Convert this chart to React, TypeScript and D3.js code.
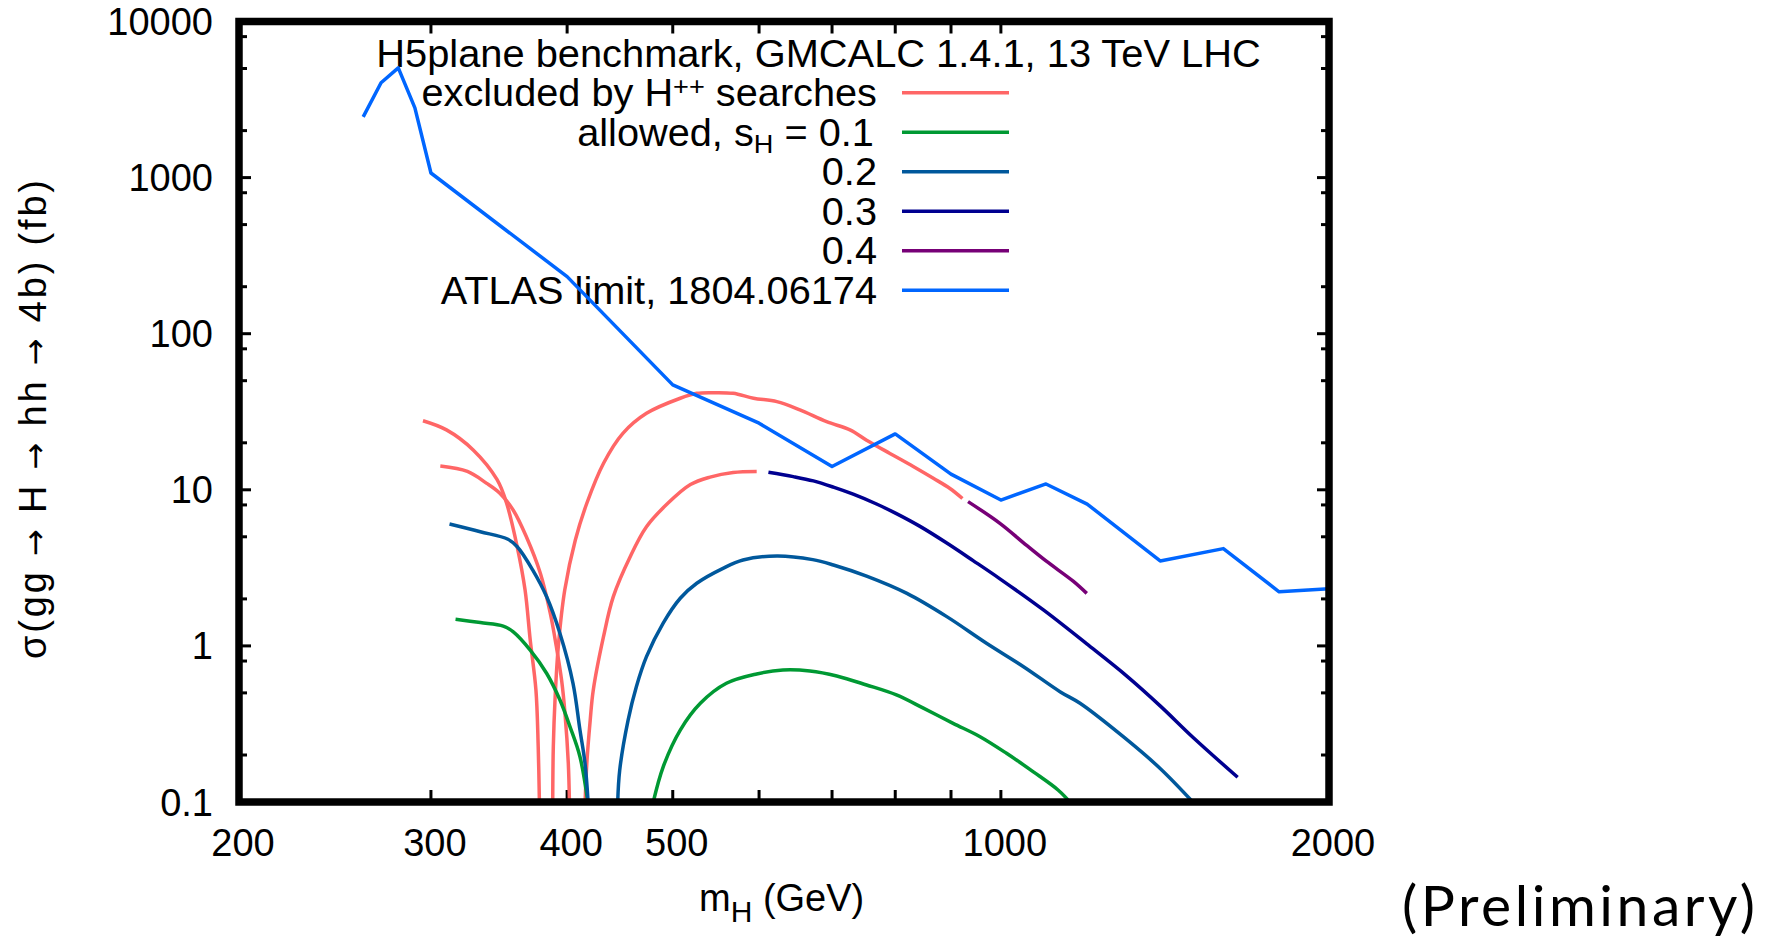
import React from "react";
import * as d3 from "d3";

type Pt = [number, number];

// tick values / labels
const xTickValues = [200, 300, 400, 500, 600, 700, 800, 900, 1000, 2000];
const xTickLabels = [200, 300, 400, 500, 1000, 2000];
const yTickLabels = [0.1, 1, 10, 100, 1000, 10000];
const yMinorFactors = [2, 5, 8];

// excluded by H++ searches (four segments)
const excluded1: Pt[] = [[295, 27.7], [310, 24.2], [328, 18.0], [345, 11.6], [352, 8.2], [360, 4.3], [366, 2.28], [370, 1.09], [374.5, 0.52], [376.3, 0.226], [377.3, 0.095]];
const excluded2: Pt[] = [[306, 14.2], [324, 13.1], [337.5, 11.0], [347, 9.5], [357, 7.4], [367, 5.0], [378, 2.92], [386, 1.62], [391, 0.99], [395.4, 0.6], [398.2, 0.37], [401, 0.177], [402, 0.095]];
const excluded3: Pt[] = [[388, 0.095], [388.5, 0.226], [390, 0.47], [392.6, 0.99], [398, 2.28], [407, 4.77], [417, 8.2], [432, 14.8], [450, 23.0], [473, 30.9], [508, 38.6], [526, 41.5], [545, 41.9], [568, 41.5], [593, 38.6], [623, 36.7], [654, 32.5], [692, 27.3], [727, 24.2], [753, 20.8], [791, 17.1], [831, 14.1], [867, 11.85], [898, 10.2], [922, 8.8]];
const excluded4: Pt[] = [[415.4, 0.095], [417, 0.177], [420, 0.335], [422.7, 0.52], [432, 1.15], [441, 2.07], [457, 3.73], [473, 5.8], [494, 8.1], [519, 10.8], [541, 12.05], [568, 12.9], [597, 13.1]];

// allowed, s_H = 0.1
const sH01a: Pt[] = [[316, 1.48], [333, 1.41], [349.5, 1.34], [357, 1.23], [370, 0.94], [383, 0.668], [394, 0.45], [402.4, 0.304], [411, 0.195], [418.3, 0.095]];
const sH01b: Pt[] = [[479, 0.095], [490, 0.168], [508, 0.289], [530, 0.429], [560, 0.576], [597, 0.661], [631, 0.701], [668, 0.691], [707, 0.642], [753, 0.562], [802, 0.485], [849, 0.399], [904, 0.319], [957, 0.262], [1012, 0.205], [1071, 0.156], [1129, 0.119], [1160, 0.098]];

// s_H = 0.2
const sH02a: Pt[] = [[312, 6.04], [333, 5.39], [353, 4.82], [360, 4.32], [372, 3.06], [383, 2.07], [394, 1.2], [405, 0.576], [411, 0.289], [415.4, 0.177], [418.3, 0.095]];
const sH02b: Pt[] = [[445, 0.095], [447, 0.16], [455, 0.335], [463, 0.548], [473, 0.853], [490, 1.4], [508, 2.02], [526, 2.52], [556, 3.14], [580, 3.55], [623, 3.77], [672, 3.57], [702, 3.3], [753, 2.8], [820, 2.17], [892, 1.54], [970, 1.04], [1049, 0.736], [1133, 0.509], [1182, 0.429], [1295, 0.262], [1400, 0.164], [1500, 0.1]];

// s_H = 0.3
const sH03: Pt[] = [[612, 12.95], [645, 12.15], [673, 11.4], [702, 10.4], [732, 9.37], [769, 8.11], [802, 7.04], [843, 5.83], [892, 4.56], [943, 3.52], [998, 2.69], [1094, 1.7], [1199, 1.03], [1304, 0.643], [1400, 0.413], [1501, 0.259], [1649, 0.144]];

// s_H = 0.4
const sH04: Pt[] = [[933, 8.4], [998, 6.1], [1056, 4.4], [1100, 3.5], [1165, 2.6], [1199, 2.17]];

// ATLAS limit, 1804.06174
const atlas: Pt[] = [[260, 2450], [270, 4050], [280, 5050], [290, 2800], [300, 1070], [400, 232], [500, 47], [600, 26.7], [700, 14.1], [800, 22.8], [900, 12.6], [1000, 8.6], [1100, 10.9], [1200, 8.1], [1400, 3.5], [1600, 4.2], [1800, 2.22], [2000, 2.32]];

const C_EXCL = "#ff6666";
const C_01 = "#009933";
const C_02 = "#00589c";
const C_03 = "#000090";
const C_04 = "#770077";
const C_ATLAS = "#0066ff";

const W = 1766, H = 941;
const L = 239, R = 1329, T = 21.5, B = 802;
const FONT = "'Liberation Sans', Arial, Helvetica, sans-serif";
const ARROW_FONT = "'DejaVu Sans', sans-serif";

export default function App() {
  const x = d3.scaleLog().domain([200, 2000]).range([L, R]);
  const y = d3.scaleLog().domain([0.1, 10000]).range([B, T]);
  const smooth = d3.line<Pt>().x(d => x(d[0])).y(d => y(d[1])).curve(d3.curveCatmullRom.alpha(0.5));
  const straight = d3.line<Pt>().x(d => x(d[0])).y(d => y(d[1])).curve(d3.curveLinear);

  const curves: { data: Pt[]; color: string; line: any }[] = [
    { data: excluded1, color: C_EXCL, line: smooth },
    { data: excluded2, color: C_EXCL, line: smooth },
    { data: excluded3, color: C_EXCL, line: smooth },
    { data: excluded4, color: C_EXCL, line: smooth },
    { data: sH01a, color: C_01, line: smooth },
    { data: sH01b, color: C_01, line: smooth },
    { data: sH02a, color: C_02, line: smooth },
    { data: sH02b, color: C_02, line: smooth },
    { data: sH03, color: C_03, line: smooth },
    { data: sH04, color: C_04, line: smooth },
    { data: atlas, color: C_ATLAS, line: straight },
  ];

  const minorY: number[] = [];
  for (let dec = 0.1; dec < 10000; dec *= 10) {
    for (const f of yMinorFactors) minorY.push(dec * f);
  }

  const rowY0 = 53.2;
  const rowStep = 39.5;
  const keyTextX = 877;
  const keyLineX1 = 902;
  const keyLineX2 = 1009;
  const legendColors = [C_EXCL, C_01, C_02, C_03, C_04, C_ATLAS];
  const sx = 1.045;
  const arrow = <tspan fontFamily={ARROW_FONT} fontSize={32}>→</tspan>;

  return (
    <svg width={W} height={H} style={{ position: "absolute", left: 0, top: 0, background: "#fff" }} fontFamily={FONT}>
      <defs>
        <clipPath id="plotclip">
          <rect x={L} y={T} width={R - L} height={B - T} />
        </clipPath>
      </defs>
      <rect x={0} y={0} width={W} height={H} fill="#fff" />

      {/* ticks */}
      <g stroke="#000" strokeWidth={3}>
        {yTickLabels.map(v => (
          <g key={"yt" + v}>
            <line x1={L} x2={L + 12} y1={y(v)} y2={y(v)} />
            <line x1={R} x2={R - 12} y1={y(v)} y2={y(v)} />
          </g>
        ))}
        {minorY.map((v, i) => (
          <g key={"ym" + i}>
            <line x1={L} x2={L + 8} y1={y(v)} y2={y(v)} />
            <line x1={R} x2={R - 8} y1={y(v)} y2={y(v)} />
          </g>
        ))}
        {xTickValues.map(v => (
          <g key={"xt" + v}>
            <line x1={x(v)} x2={x(v)} y1={B} y2={B - 12} />
            <line x1={x(v)} x2={x(v)} y1={T} y2={T + 12} />
          </g>
        ))}
      </g>

      {/* tick labels */}
      <g fontSize={38} fill="#000">
        {yTickLabels.map(v => (
          <text key={"yl" + v} x={213} y={y(v) + 13.5} textAnchor="end">{String(v)}</text>
        ))}
        {xTickLabels.map(v => (
          <text key={"xl" + v} x={x(v) + 4} y={856} textAnchor="middle">{String(v)}</text>
        ))}
      </g>

      {/* axis titles */}
      <text fontSize={38} transform="translate(45.5,419.5) rotate(-90)" textAnchor="middle" textLength={479} lengthAdjust="spacing">
        σ(gg {arrow} H {arrow} hh {arrow} 4b) (fb)
      </text>
      <text fontSize={38} x={699} y={911}>
        m<tspan fontSize={30} dy={10.5}>H</tspan><tspan dy={-10.5}> (GeV)</tspan>
      </text>

      {/* key */}
      <g fontSize={38} fill="#000">
        <g transform={`translate(818.5,0) scale(1.048,1) translate(-818.5,0)`}>
          <text x={818.5} y={rowY0 + 13.5} textAnchor="middle">H5plane benchmark, GMCALC 1.4.1, 13 TeV LHC</text>
        </g>
        <g transform={`translate(${keyTextX},0) scale(${sx},1) translate(${-keyTextX},0)`}>
          <text x={keyTextX} y={rowY0 + rowStep + 13.5} textAnchor="end">
            excluded by H<tspan fontSize={26} dy={-11}>++</tspan><tspan dy={11}> searches</tspan>
          </text>
          <text x={keyTextX - 3} y={rowY0 + 2 * rowStep + 13.5} textAnchor="end">
            allowed, s<tspan fontSize={26} dy={7}>H</tspan><tspan dy={-7}> = 0.1</tspan>
          </text>
          <text x={keyTextX} y={rowY0 + 3 * rowStep + 13.5} textAnchor="end">0.2</text>
          <text x={keyTextX} y={rowY0 + 4 * rowStep + 13.5} textAnchor="end">0.3</text>
          <text x={keyTextX} y={rowY0 + 5 * rowStep + 13.5} textAnchor="end">0.4</text>
          <text x={keyTextX} y={rowY0 + 6 * rowStep + 13.5} textAnchor="end">ATLAS limit, 1804.06174</text>
        </g>
        {legendColors.map((c, i) => (
          <line key={"kl" + i} x1={keyLineX1} x2={keyLineX2} y1={rowY0 + (i + 1) * rowStep} y2={rowY0 + (i + 1) * rowStep} stroke={c} strokeWidth={3.5} />
        ))}
      </g>

      {/* curves */}
      <g clipPath="url(#plotclip)" fill="none" strokeWidth={3.5} strokeLinejoin="round">
        {curves.map((c, i) => (
          <path key={"c" + i} d={c.line(c.data) || ""} stroke={c.color} />
        ))}
      </g>

      {/* frame */}
      <rect x={L} y={T} width={R - L} height={B - T} fill="none" stroke="#000" strokeWidth={7.5} />

      <text x={1402} y={926} fontSize={57} fontFamily="Lato, 'Open Sans', sans-serif" textLength={353} fill="#000">(Preliminary)</text>
    </svg>
  );
}
